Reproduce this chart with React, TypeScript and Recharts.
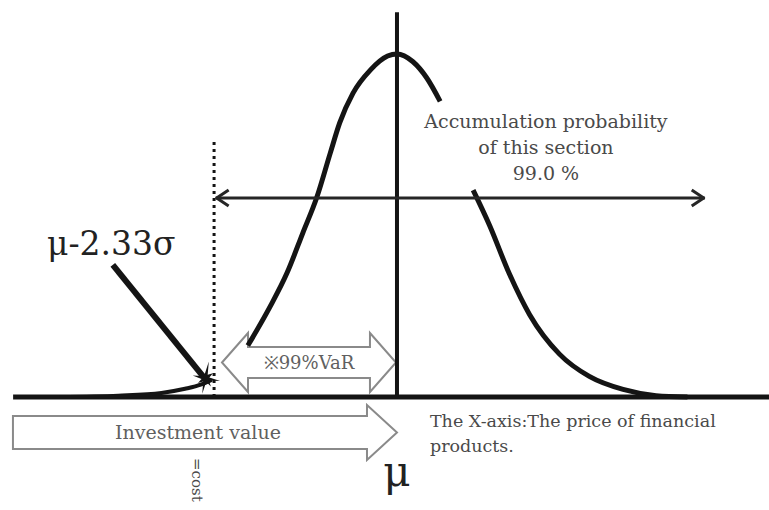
import React from "react";
import {
  ComposedChart,
  Line,
  Scatter,
  XAxis,
  YAxis,
  ReferenceLine,
  ReferenceArea,
  ReferenceDot,
} from "recharts";

// x is measured in sigma from mu, y relative to the peak height
const X_DOMAIN: [number, number] = [-5.057, 4.739];
const Y_DOMAIN: [number, number] = [-0.3294, 1.1574];

// curve pieces (the curve is broken where labels sit)
const leftTail = [
  { x: -4.3, y: 0 },
  { x: -3.55, y: 0.004 },
  { x: -3.0, y: 0.012 },
  { x: -2.7, y: 0.024 },
  { x: -2.5, y: 0.036 },
  { x: -2.36, y: 0.05 },
];

const centerHump = [
  { x: -1.9, y: 0.15 },
  { x: -1.62, y: 0.262 },
  { x: -1.4, y: 0.362 },
  { x: -1.2, y: 0.478 },
  { x: -1.02, y: 0.583 },
  { x: -0.85, y: 0.711 },
  { x: -0.73, y: 0.799 },
  { x: -0.56, y: 0.886 },
  { x: -0.34, y: 0.953 },
  { x: -0.12, y: 0.994 },
  { x: 0, y: 1 },
  { x: 0.2, y: 0.978 },
  { x: 0.38, y: 0.93 },
  { x: 0.55, y: 0.862 },
];

const rightFall = [
  { x: 0.97, y: 0.603 },
  { x: 1.18, y: 0.5 },
  { x: 1.43, y: 0.36 },
  { x: 1.69, y: 0.24 },
  { x: 2.07, y: 0.125 },
  { x: 2.45, y: 0.06 },
  { x: 2.88, y: 0.022 },
  { x: 3.3, y: 0.004 },
  { x: 3.7, y: 0 },
];

const burst = [{ x: -2.44, y: 0.055 }];

const MU = 0;
const VAR_99 = -2.33;
const SPAN_END = 3.92;
const SPAN_Y = 0.58;

const spanLabel = ["Accumulation probability", "of this section", "99.0 %"];
const axisNote = ["The X-axis:The price of financial", "products."];

const ink = "#141414";
const grey = "#4a4a4a";
const serif = "'DejaVu Serif', 'Liberation Serif', serif";

const DoubleArrow = (p: any) => {
  const { x1, y1, x2, y2 } = p;
  const h = 13;
  const w = 8;
  return (
    <g stroke="#262626" strokeWidth={3} fill="none" strokeLinejoin="round">
      <line x1={x1} y1={y1} x2={x2} y2={y2} />
      <polyline points={`${x1 + h},${y1 - w} ${x1 + 1},${y1} ${x1 + h},${y1 + w}`} />
      <polyline points={`${x2 - h},${y2 - w} ${x2 - 1},${y2} ${x2 - h},${y2 + w}`} />
    </g>
  );
};

const hollowArrow =
  (both: boolean, text: string, fontSize: number, headLen: number, inset: number) =>
  (p: any) => {
    const { x, y, width, height } = p;
    const r = x + width;
    const b = y + height;
    const cy = y + height / 2;
    const pts = both
      ? [
          [x, cy],
          [x + headLen, y],
          [x + headLen, y + inset],
          [r - headLen, y + inset],
          [r - headLen, y],
          [r, cy],
          [r - headLen, b],
          [r - headLen, b - inset],
          [x + headLen, b - inset],
          [x + headLen, b],
        ]
      : [
          [x, y + inset],
          [r - headLen, y + inset],
          [r - headLen, y],
          [r, cy],
          [r - headLen, b],
          [r - headLen, b - inset],
          [x, b - inset],
        ];
    const tx = both ? x + width / 2 : x + (width - headLen) / 2 + 8;
    return (
      <g>
        <polygon
          points={pts.map((q) => q.join(",")).join(" ")}
          fill="#fff"
          stroke="#8a8a8a"
          strokeWidth={2}
          strokeLinejoin="miter"
        />
        <text
          x={tx}
          y={cy + fontSize * 0.36}
          textAnchor="middle"
          fontFamily={serif}
          fontSize={fontSize}
          fill="#606060"
        >
          {text}
        </text>
      </g>
    );
  };

const Burst = (p: any) => {
  const { cx, cy } = p;
  const outer = [17, 9, 15, 10, 16, 9, 13, 10];
  const pts: string[] = [];
  for (let i = 0; i < 16; i++) {
    const a = (i * Math.PI) / 8 - Math.PI / 2 + 0.2;
    const rr = i % 2 === 0 ? outer[i / 2] : 4;
    pts.push(`${cx + rr * Math.cos(a)},${cy + rr * Math.sin(a)}`);
  }
  return <polygon points={pts.join(" ")} fill={ink} />;
};

const textAt =
  (lines: string[], size: number, anchor: string, gap: number, fill = grey, rotate = 0) =>
  (p: any) => {
    const { cx, cy } = p;
    return (
      <text
        x={cx}
        y={cy}
        textAnchor={anchor}
        fontFamily={serif}
        fontSize={size}
        fill={fill}
        transform={rotate ? `rotate(${rotate} ${cx} ${cy})` : undefined}
      >
        {lines.map((l, i) => (
          <tspan key={i} x={cx} dy={i === 0 ? 0 : gap}>
            {l}
          </tspan>
        ))}
      </text>
    );
  };

export default function App() {
  return (
    <div style={{ position: "absolute", left: 0, top: 0, background: "#fff" }}>
      <ComposedChart width={769} height={510} margin={{ top: 0, right: 0, bottom: 0, left: 0 }}>
        <XAxis type="number" dataKey="x" domain={X_DOMAIN} allowDataOverflow hide />
        <YAxis type="number" dataKey="y" domain={Y_DOMAIN} allowDataOverflow hide />

        {/* baseline, mean line and VaR cut-off */}
        <ReferenceLine
          segment={[{ x: -4.89, y: 0 }, { x: X_DOMAIN[1], y: 0 }]}
          stroke={ink}
          strokeWidth={5}
          ifOverflow="visible"
        />
        <ReferenceLine
          segment={[{ x: MU, y: 0 }, { x: MU, y: 1.122 }]}
          stroke={ink}
          strokeWidth={4}
          ifOverflow="visible"
        />
        <ReferenceLine
          segment={[{ x: VAR_99, y: 0 }, { x: VAR_99, y: 0.755 }]}
          stroke={ink}
          strokeWidth={3}
          strokeDasharray="3 4"
          ifOverflow="visible"
        />

        <Line data={leftTail} dataKey="y" type="monotone" stroke={ink} strokeWidth={4} dot={false} activeDot={false} isAnimationActive={false} />
        <Line data={centerHump} dataKey="y" type="monotone" stroke={ink} strokeWidth={5} dot={false} activeDot={false} isAnimationActive={false} />
        <Line data={rightFall} dataKey="y" type="monotone" stroke={ink} strokeWidth={5} dot={false} activeDot={false} isAnimationActive={false} />

        {/* 99% span arrow */}
        <ReferenceLine
          segment={[{ x: VAR_99 + 0.02, y: SPAN_Y }, { x: SPAN_END, y: SPAN_Y }]}
          shape={DoubleArrow}
          ifOverflow="visible"
        />

        {/* pointer from the mu-2.33 sigma label */}
        <ReferenceLine
          segment={[{ x: -3.62, y: 0.385 }, { x: -2.47, y: 0.06 }]}
          stroke={ink}
          strokeWidth={6}
          ifOverflow="visible"
        />
        <Scatter data={burst} dataKey="y" shape={Burst} isAnimationActive={false} />

        <ReferenceArea
          x1={-2.229}
          x2={-0.013}
          y1={0.0146}
          y2={0.1866}
          ifOverflow="visible"
          shape={hollowArrow(true, "※99%VaR", 18, 26, 14)}
        />
        <ReferenceArea
          x1={-4.892}
          x2={MU}
          y1={-0.1837}
          y2={-0.0233}
          ifOverflow="visible"
          shape={hollowArrow(false, "Investment value", 19, 30, 11)}
        />

        <ReferenceDot x={1.898} y={0.784} ifOverflow="visible" shape={textAt(spanLabel, 19, "middle", 26)} />
        <ReferenceDot x={-4.459} y={0.414} ifOverflow="visible" shape={textAt(["μ-2.33σ"], 33, "start", 0, "#222")} />
        <ReferenceDot x={0.42} y={-0.087} ifOverflow="visible" shape={textAt(axisNote, 17.5, "start", 25)} />
        <ReferenceDot x={MU} y={-0.259} ifOverflow="visible" shape={textAt(["μ"], 42, "middle", 0, "#222")} />
        <ReferenceDot x={-2.611} y={-0.178} ifOverflow="visible" shape={textAt(["=cost"], 15, "start", 0, grey, 90)} />
      </ComposedChart>
    </div>
  );
}
